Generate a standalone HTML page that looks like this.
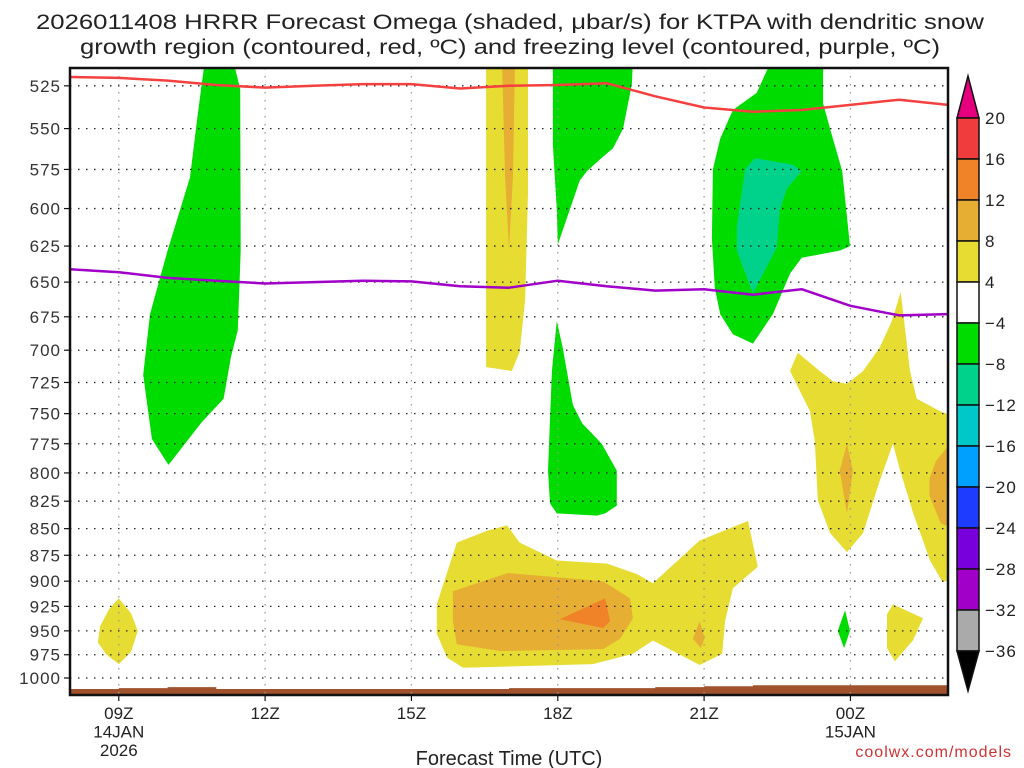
<!DOCTYPE html>
<html><head><meta charset="utf-8"><style>
body{margin:0;background:#fff;}
svg{display:block;font-family:"Liberation Sans",sans-serif;}
</style></head><body>
<svg id="chart" width="1024" height="768" viewBox="0 0 1024 768" xmlns="http://www.w3.org/2000/svg">
<defs><clipPath id="plotclip"><rect x="70" y="68" width="878" height="627"/></clipPath></defs>
<text x="510" y="29" font-size="21" text-anchor="middle" fill="#222" textLength="948" lengthAdjust="spacingAndGlyphs">2026011408 HRRR Forecast Omega (shaded, μbar/s) for KTPA with dendritic snow</text>
<text x="510" y="54" font-size="21" text-anchor="middle" fill="#222" textLength="860" lengthAdjust="spacingAndGlyphs">growth region (contoured, red, ºC) and freezing level (contoured, purple, ºC)</text>
<g id="fills" clip-path="url(#plotclip)"></g>
<g id="grid"></g>
<g id="lines" clip-path="url(#plotclip)"></g>
<g id="axes"></g>
<g id="cbar"></g>
<text x="509" y="765" font-size="20" text-anchor="middle" fill="#222">Forecast Time (UTC)</text>
<text x="1012" y="757" font-size="16" text-anchor="end" fill="#d23232" letter-spacing="1">coolwx.com/models</text>
</svg>
<script>
// ---- data (hours since 08Z 14 Jan, pressure hPa) ----
const levels = [525,550,575,600,625,650,675,700,725,750,775,800,825,850,875,900,925,950,975,1000];
const timeTicks = [1,4,7,10,13,16];
const timeLabels = [["09Z","14JAN","2026"],["12Z"],["15Z"],["18Z"],["21Z"],["00Z","15JAN"]];
const lineHours = [0,1,2,3,4,5,6,7,8,9,10,11,12,13,14,15,16,17,18];
const dendriticTop = [520,520.5,522,524.5,526,525,524,524,526.5,525,524.5,523.5,531,537.5,540,539,536,533,536];
const freezingLevel = [641,643,647,649,651,650,649,649.5,653,654,649,653,656,655,659,655,667,674,673];
const surfacePres = [1012,1011,1010,1012,1012,1012,1012,1012,1012,1011,1011,1011,1010,1009,1008,1008,1008,1008,1008];
const cbarValues = [20,16,12,8,4,-4,-8,-12,-16,-20,-24,-28,-32,-36];
const cbarColors = ["#f03c3c","#f08228","#e6ae32","#e6dc32","#ffffff","#00dc00","#00d28c","#00c8c8","#00a0ff","#1e3cff","#7800dc","#a000c8","#aaaaaa"];
const yellowA = [[8.53,515],[9.39,515],[9.39,590],[9.33,663],[9.22,701],[9.06,716],[8.53,713]];
const orangeA = [[8.86,515],[9.12,515],[9.08,580],[9.0,627],[8.92,580]];
const yellowBottom = [[7.52,923],[7.93,863],[8.55,852],[8.96,847],[9.22,863],[9.98,880],[11.01,883],[11.62,893],[11.95,902],[12.91,861],[13.9,843],[14.1,886],[13.59,907],[13.43,940],[13.37,974],[12.91,986],[11.95,960],[11.54,974],[10.72,985],[8.06,989],[7.73,978],[7.52,953]];
const orangeBottom = [[7.85,910],[8.98,892],[10.93,900],[11.48,917],[11.54,937],[11.28,958],[10.93,969],[8.82,971],[7.93,964],[7.85,940]];
const redBottom = [[10.04,938],[10.97,917],[11.07,940],[10.93,947]];
const orange21 = [[12.91,940],[13.01,958],[12.93,968],[12.77,958]];
const yellowRight = [[14.92,702],[15.37,716],[15.64,724],[15.93,726],[16.26,716],[16.6,698],[16.85,678],[17.03,657],[17.22,716],[17.36,738],[17.84,748],[18.1,752],[18.1,900],[17.88,900],[17.63,880],[17.28,835],[17.02,798],[16.87,775],[16.6,807],[16.26,854],[15.93,872],[15.58,854],[15.33,824],[15.27,773],[15.17,748],[14.76,716]];
const orange00 = [[15.93,775],[16.05,798],[15.93,836],[15.78,798]];
const orangeEdge = [[18.1,772],[17.75,790],[17.62,805],[17.62,820],[17.85,845],[18.1,850]];
const yellowSmallR = [[16.87,923],[17.49,937],[17.28,960],[16.91,982],[16.75,968],[16.75,933]];
const yellow09 = [[1,917],[1.25,932],[1.39,950],[1.25,972],[1,985],[0.75,975],[0.57,962],[0.62,945],[0.8,928]];
const green1 = [[2.77,510],[3.34,510],[3.49,527],[3.5,628],[3.44,685],[3.3,705],[3.15,738],[2.7,757],[2.02,793],[1.68,771],[1.5,719],[1.64,673],[2.0,628],[2.46,580],[2.6,546],[2.7,524]];
const green2 = [[9.9,510],[11.54,510],[11.52,524],[11.34,550],[11.13,562],[10.93,567],[10.6,576],[10.45,582],[10.0,624],[9.98,601],[9.9,560]];
const green3 = [[9.98,678],[10.1,698],[10.31,743],[10.5,758],[10.9,775],[11.21,798],[11.21,829],[10.97,836],[10.8,838],[9.98,836],[9.84,827],[9.8,798],[9.88,716]];
const green4 = [[14.39,510],[15.44,510],[15.44,535],[15.58,550],[15.83,576],[15.99,625],[15.79,628],[15.0,633],[14.76,644],[14.41,673],[14.0,695],[13.59,688],[13.33,673],[13.22,654],[13.16,620],[13.18,575],[13.33,556],[13.59,539],[14.08,529]];
const teal4 = [[14.04,568],[14.82,572],[15.0,576],[14.7,587],[14.55,601],[14.49,626],[14.0,658],[13.67,628],[13.67,612],[13.84,575]];
const green00 = [[15.89,929],[15.99,950],[15.87,968],[15.74,950]];

// ---- scales ----
const X0=70, X1=948, Y0=68, Y1=695;
function xs(h){ return X0 + h*(X1-X0)/18; }
function ys(p){ return 678 - 919*Math.log(1000/p); }
const NS="http://www.w3.org/2000/svg";
function mk(tag, attrs, parent){ const e=document.createElementNS(NS,tag); for(const k in attrs) e.setAttribute(k,attrs[k]); parent.appendChild(e); return e; }
function poly(pts){ return pts.map(q=>xs(q[0]).toFixed(1)+","+ys(q[1]).toFixed(1)).join(" "); }

const fills=document.getElementById('fills');
const shapes=[
 [yellowA,"#e6dc32","yellow-region-17z"],[orangeA,"#e6ae32","orange-region-17z"],
 [yellowBottom,"#e6dc32","yellow-region-low"],[orangeBottom,"#e6ae32","orange-region-low"],[redBottom,"#f08228","strong-region-low"],[orange21,"#e6ae32","orange-region-21z"],
 [yellowRight,"#e6dc32","yellow-region-00z"],[orange00,"#e6ae32","orange-region-00z"],[orangeEdge,"#e6ae32","orange-region-edge"],[yellowSmallR,"#e6dc32","yellow-region-01z"],[yellow09,"#e6dc32","yellow-region-09z"],
 [green1,"#00dc00","green-region-11z"],[green2,"#00dc00","green-region-18z-upper"],[green3,"#00dc00","green-region-18z-lower"],[green4,"#00dc00","green-region-22z"],[teal4,"#00d28c","teal-region-22z"],[green00,"#00dc00","green-region-00z"]
];
shapes.forEach(s=>{
 const e=mk('polygon',{points:poly(s[0]),fill:s[1]},fills);
 
 
});
// terrain
let tp="M"+xs(0)+","+Y1;
lineHours.forEach((h,i)=>{ tp+=" L"+xs(h).toFixed(1)+","+ys(surfacePres[i]).toFixed(1); if(i<lineHours.length-1) tp+=" L"+xs(lineHours[i+1]).toFixed(1)+","+ys(surfacePres[i]).toFixed(1); });
tp+=" L"+X1+","+Y1+" Z";
const terr=mk('path',{d:tp,fill:"#a0522d"},fills);



// grid
const grid=document.getElementById('grid');
levels.forEach(p=>{
 const l=mk('line',{x1:X0,x2:X1,y1:ys(p),y2:ys(p),stroke:"#222","stroke-width":1.3,"stroke-dasharray":"1.5 6.5"},grid);
 
 
});
timeTicks.forEach(h=>{
 const l=mk('line',{x1:xs(h),x2:xs(h),y1:Y0,y2:Y1,stroke:"#999","stroke-width":1.3,"stroke-dasharray":"1.5 6.5"},grid);
 
 
});

// lines
const lines=document.getElementById('lines');
function linePath(arr){ return arr.map((p,i)=>(i?"L":"M")+xs(lineHours[i]).toFixed(1)+","+ys(p).toFixed(1)).join(" "); }
const rl=mk('path',{d:linePath(dendriticTop),fill:"none",stroke:"#f54040","stroke-width":2.5,"stroke-linejoin":"round"},lines);


const pl=mk('path',{d:linePath(freezingLevel),fill:"none",stroke:"#a000c8","stroke-width":2.5,"stroke-linejoin":"round"},lines);



// axes
const axes=document.getElementById('axes');
const fr=mk('rect',{x:X0,y:Y0,width:X1-X0,height:Y1-Y0,fill:"none",stroke:"#111","stroke-width":2.5},axes);


levels.forEach(p=>{
 mk('line',{x1:X0-6,x2:X0,y1:ys(p),y2:ys(p),stroke:"#111","stroke-width":1.2},axes);
 const t=mk('text',{x:X0-9,y:ys(p)+6,"font-size":17,"text-anchor":"end",fill:"#333","letter-spacing":"1"},axes);
 t.textContent=p;
 
 
});
timeTicks.forEach((h,i)=>{
 mk('line',{x1:xs(h),x2:xs(h),y1:Y1,y2:Y1+6,stroke:"#111","stroke-width":1.2},axes);
 timeLabels[i].forEach((s,j)=>{
  const t=mk('text',{x:xs(h),y:Y1+24+j*18.5,"font-size":17,"text-anchor":"middle",fill:"#222"},axes);
  t.textContent=s;
  
  
 });
});

// colorbar
const cb=document.getElementById('cbar');
const CX=957, CW=22, CT=118, CH=41;
mk('polygon',{points:`${CX},${CT} ${CX+CW},${CT} ${CX+CW/2},${CT-42}`,fill:"#e6007e",stroke:"#111","stroke-width":1.5},cb);
cbarColors.forEach((c,i)=>{
 const r=mk('rect',{x:CX,y:CT+i*CH,width:CW,height:CH,fill:c,stroke:"#111","stroke-width":1.5},cb);
 
 
});
const cbBot=CT+cbarColors.length*CH;
mk('polygon',{points:`${CX},${cbBot} ${CX+CW},${cbBot} ${CX+CW/2},${cbBot+40}`,fill:"#000",stroke:"#111","stroke-width":1.5},cb);
cbarValues.forEach((v,i)=>{
 const t=mk('text',{x:CX+CW+6,y:CT+i*CH+6,"font-size":17,fill:"#222","letter-spacing":"1"},cb);
 t.textContent=(v<0?"−":"")+Math.abs(v);
 
 
});
</script>
</body></html>
